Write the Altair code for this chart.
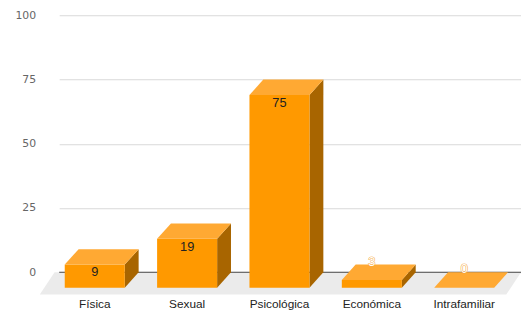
import altair as alt
import pandas as pd

# ---- data ----
categories = ["Física", "Sexual", "Psicológica", "Económica", "Intrafamiliar"]
values = [9, 19, 75, 3, 0]
y_ticks = [0, 25, 50, 75, 100]

# ---- 3D look (scale units) ----
DEPTH_X = 0.15       # horizontal shift of the front plane
DEPTH_Y = 6.0        # vertical shift of the front plane
BAR_START = 0.21
BAR_WIDTH = 0.65
FLOOR_FRONT = -8.7
FLOOR_LEFT = -0.21
FLOOR_RIGHT = 4.84
FLOOR_SLANT = 0.16
X_MAX = 5
INSIDE_MIN = 5

FRONT = "#ff9900"
TOP = "#ffa933"
SIDE = "#a86500"
FLOOR = "#ebebeb"

front_rows, top_rows, side_rows = [], [], []
for i, (c, v) in enumerate(zip(categories, values)):
    xb0 = i + BAR_START
    xb1 = xb0 + BAR_WIDTH
    xf0 = xb0 - DEPTH_X
    xf1 = xb1 - DEPTH_X
    front_rows.append(dict(cat=c, v=v, label=str(v), x0=xf0, x1=xf1, xc=(xf0 + xf1) / 2,
                           y0=-DEPTH_Y, y1=v - DEPTH_Y, ly=FLOOR_FRONT,
                           inside=bool(v >= INSIDE_MIN)))
    for o, (x, lo, hi) in enumerate([(xf0, v - DEPTH_Y, v - DEPTH_Y),
                                     (xb0, v - DEPTH_Y, v),
                                     (xf1, v - DEPTH_Y, v),
                                     (xb1, v, v)]):
        top_rows.append(dict(cat=c, o=o, x=x, lo=lo, hi=hi))
    for o, (x, lo, hi) in enumerate([(xf1, -DEPTH_Y, v - DEPTH_Y), (xb1, 0, v)]):
        side_rows.append(dict(cat=c, o=o, x=x, lo=lo, hi=hi))

floor_rows = [
    dict(cat="floor", o=0, x=FLOOR_LEFT, lo=FLOOR_FRONT, hi=FLOOR_FRONT),
    dict(cat="floor", o=1, x=FLOOR_LEFT + FLOOR_SLANT, lo=FLOOR_FRONT, hi=0),
    dict(cat="floor", o=2, x=FLOOR_RIGHT, lo=FLOOR_FRONT, hi=0),
    dict(cat="floor", o=3, x=FLOOR_RIGHT + FLOOR_SLANT, lo=0, hi=0),
]

front_df = pd.DataFrame(front_rows)
top_df = pd.DataFrame(top_rows)
side_df = pd.DataFrame(side_rows)
floor_df = pd.DataFrame(floor_rows)
zero_df = pd.DataFrame([dict(x0=0, x1=X_MAX, y=0)])

xs = alt.Scale(domain=[0, X_MAX], nice=False, zero=False)
ys = alt.Scale(domain=[0, 100], nice=False)
yaxis = alt.Axis(values=y_ticks, grid=True, gridColor="#d8d8d8", gridWidth=1,
                 domain=False, ticks=False, labelColor="#666666", labelFontSize=11,
                 labelFont="DejaVu Sans", labelPadding=24, title=None)


def area_layer(df, color):
    return alt.Chart(df).mark_area(color=color, interpolate="linear", opacity=1,
                                   orient="vertical", line=False).encode(
        x=alt.X("x:Q", scale=xs, axis=None),
        y=alt.Y("lo:Q", scale=ys, axis=yaxis, stack=None),
        y2="hi:Q",
        detail="cat:N",
    )


floor = area_layer(floor_df, FLOOR)

zero = alt.Chart(zero_df).mark_rule(color="#444444", strokeWidth=1).encode(
    x=alt.X("x0:Q", scale=xs, axis=None),
    x2="x1:Q",
    y=alt.Y("y:Q", scale=ys, axis=yaxis),
)

side = area_layer(side_df, SIDE)
top = area_layer(top_df, TOP)

front = alt.Chart(front_df).mark_rect(color=FRONT).encode(
    x=alt.X("x0:Q", scale=xs, axis=None),
    x2="x1:Q",
    y=alt.Y("y0:Q", scale=ys, axis=yaxis),
    y2="y1:Q",
)

label_in = alt.Chart(front_df).transform_filter("datum.inside").mark_text(
    font="Liberation Sans", fontSize=13, color="#222222", dy=8, baseline="middle"
).encode(
    x=alt.X("xc:Q", scale=xs, axis=None),
    y=alt.Y("y1:Q", scale=ys, axis=yaxis),
    text="label:N",
)

out_base = alt.Chart(front_df).transform_filter("!datum.inside")
out_enc = dict(
    x=alt.X("xc:Q", scale=xs, axis=None),
    y=alt.Y("v:Q", scale=ys, axis=yaxis),
    text="label:N",
)
label_out_halo = out_base.mark_text(
    font="Liberation Sans", fontSize=13, color="#f5a53a", dy=-3, baseline="middle",
    stroke="#f5a53a", strokeWidth=1.2, strokeOpacity=0.7
).encode(**out_enc)
label_out = out_base.mark_text(
    font="Liberation Sans", fontSize=13, color="#ffffff", dy=-3, baseline="middle"
).encode(**out_enc)

cat_labels = alt.Chart(front_df).mark_text(
    font="Liberation Sans", fontSize=12, color="#222222", dy=10, baseline="middle"
).encode(
    x=alt.X("xc:Q", scale=xs, axis=None),
    y=alt.Y("ly:Q", scale=ys, axis=yaxis),
    text="cat:N",
)

chart = alt.layer(floor, zero, side, front, top, label_in, label_out_halo, label_out,
                  cat_labels).properties(
    width=469,
    height=261,
    padding={"left": 52, "top": 5, "right": 0, "bottom": 39},
    autosize="none",
).configure(background="#ffffff").configure_view(stroke=None)

chart.save("out.html", embed_options={"renderer": "svg", "actions": False})
